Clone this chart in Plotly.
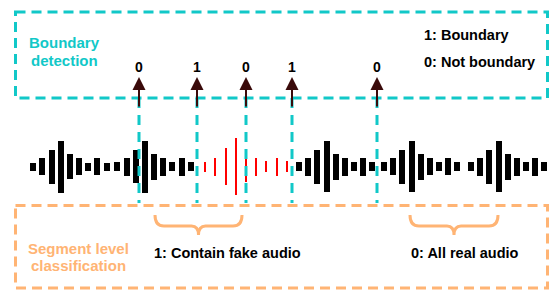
import plotly.graph_objects as go

# ---- data ----
black_x = [33, 42, 52, 61, 70, 79, 88, 97, 107,
           117, 127, 136, 145, 154, 163, 172, 182, 191,
           299, 308, 317, 327, 336, 345, 354, 363, 372,
           384, 393, 402, 412, 421, 430, 439, 448, 457,
           471, 480, 489, 499, 508, 517, 526, 535, 544]
black_h = [8.5, 17, 34, 52, 25, 17, 8, 17, 8,
           9, 18, 33, 52, 26, 18, 9, 18, 9,
           9, 18, 34, 51, 26, 18, 9, 18, 9,
           9, 17, 34, 51, 26, 17, 9, 17, 9,
           9, 18, 34, 51, 26, 18, 9, 18, 9]
red_x = [205, 215, 226, 236, 246, 256, 266, 277, 287]
red_h = [10, 18, 37, 57, 30, 18, 11, 18, 11]

boundary_x = [139, 197, 246, 292, 377]
boundary_labels = ["0", "1", "0", "1", "0"]

segment_braces = [(155, 242), (410, 498)]
segment_labels = ["1: Contain fake audio", "0: All real audio"]
segment_label_x = [227, 465]

TEAL = "#11C8C8"
ORANGE = "#FFB474"
ARROW = "#3A0A0A"
CENTER = 166.8
FONT = "Liberation Sans, Arial, sans-serif"

fig = go.Figure()

fig.add_trace(go.Bar(x=black_x, y=black_h, base=[CENTER - h / 2 for h in black_h],
                     width=5.5, marker=dict(color="black", line=dict(width=0)),
                     hoverinfo="skip", showlegend=False))
fig.add_trace(go.Bar(x=red_x, y=red_h, base=[CENTER - h / 2 for h in red_h],
                     width=2.2, marker=dict(color="#FF0000", line=dict(width=0)),
                     hoverinfo="skip", showlegend=False))

shapes = []
# boxes
shapes.append(dict(type="rect", xref="x", yref="y", x0=15.5, y0=12, x1=547.5, y1=98,
                   line=dict(color=TEAL, width=3, dash="10px,6px"), layer="above"))
shapes.append(dict(type="rect", xref="x", yref="y", x0=15.5, y0=205.5, x1=547.5, y1=288,
                   line=dict(color=ORANGE, width=3, dash="10px,6px"), layer="above"))
# vertical dashed lines
for bx in boundary_x:
    shapes.append(dict(type="line", xref="x", yref="y", x0=bx, x1=bx, y0=98, y1=203,
                       line=dict(color=TEAL, width=3, dash="10px,7px"), layer="above"))
# braces
for (a, b) in segment_braces:
    m = (a + b) / 2
    path = (f"M {a} 215 Q {a} 226 {a+9} 226 L {m-7} 226 Q {m} 226 {m} 235 "
            f"Q {m} 226 {m+7} 226 L {b-9} 226 Q {b} 226 {b} 215")
    shapes.append(dict(type="path", xref="x", yref="y", path=path,
                       line=dict(color=ORANGE, width=3), layer="above"))

annotations = []
for bx, lab in zip(boundary_x, boundary_labels):
    annotations.append(dict(x=bx, y=77, ax=bx, ay=108, xref="x", yref="y", axref="x", ayref="y",
                            showarrow=True, arrowhead=2, arrowsize=1.3, arrowwidth=2,
                            arrowcolor=ARROW, text=""))
    annotations.append(dict(x=bx, y=67, xref="x", yref="y", text=f"<b>{lab}</b>", showarrow=False,
                            font=dict(family=FONT, size=14, color="black"),
                            xanchor="center", yanchor="middle"))

def txt(x, y, t, color, size, xanchor="center"):
    annotations.append(dict(x=x, y=y, xref="x", yref="y", text=f"<b>{t}</b>", showarrow=False,
                            font=dict(family=FONT, size=size, color=color),
                            xanchor=xanchor, yanchor="middle"))

txt(64, 42, "Boundary", TEAL, 15)
txt(64, 60, "detection", TEAL, 15)
txt(422, 35, "1: Boundary", "black", 14.5, "left")
txt(422, 62, "0: Not boundary", "black", 14.5, "left")
txt(78, 248, "Segment level", ORANGE, 15)
txt(78, 265, "classification", ORANGE, 15)
for lx, lab in zip(segment_label_x, segment_labels):
    txt(lx, 253, lab, "black", 14.5)

fig.update_layout(
    width=550, height=290,
    margin=dict(l=0, r=0, t=0, b=0),
    paper_bgcolor="white", plot_bgcolor="white",
    xaxis=dict(range=[0, 550], visible=False, fixedrange=True),
    yaxis=dict(range=[290, 0], visible=False, fixedrange=True),
    shapes=shapes, annotations=annotations,
    barmode="overlay", bargap=0,
)

fig.write_html("out.html",
               config={"displayModeBar": False, "staticPlot": True},
               post_script="document.body.style.margin='0';document.body.style.padding='0';"
                           "document.body.style.overflow='hidden';")
